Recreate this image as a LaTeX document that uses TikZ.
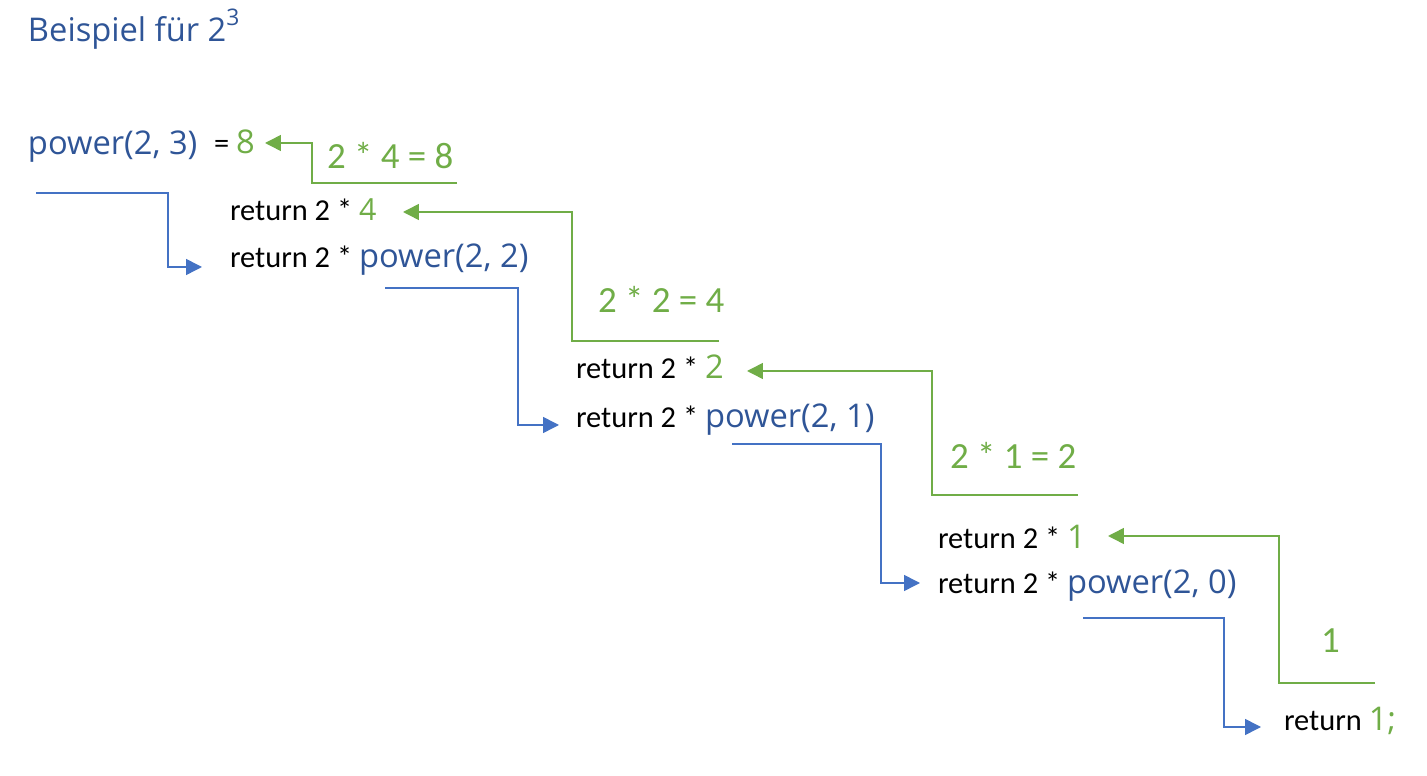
\documentclass[tikz,border=0pt]{standalone}
\usepackage{fontspec}
\setmainfont{Carlito}
\newfontfamily\lfont{Open Sans}
\usetikzlibrary{arrows.meta}
\definecolor{bl}{HTML}{4472C4}
\definecolor{gr}{HTML}{70AD47}
\definecolor{tb}{HTML}{2F5597}
\newcommand{\rsize}{\fontsize{17.3}{20}\selectfont}
\newcommand{\gsize}{\fontsize{21}{24}\selectfont}
\newcommand{\psize}{\lfont\fontsize{18.6}{22}\selectfont}
\begin{document}
\begin{tikzpicture}[x=0.02cm,y=-0.02cm,
  txt/.style={anchor=base west,inner sep=0pt,outer sep=0pt},
  retline/.style={txt,font=\rsize},
  glabel/.style={txt,font=\gsize,text=gr},
  garrow/.style={draw=gr,line width=0.85pt,-{Triangle[length=9pt,width=9pt]}},
  barrow/.style={draw=bl,line width=0.85pt,-{Triangle[length=9pt,width=9pt]}}]
\useasboundingbox (0,0) rectangle (1427,776);
% title
\node[txt,text=tb] (title) at (28,42) {\psize Beispiel für 2\raisebox{0.5em}{\fontsize{13}{13}\selectfont 3}};
% top call
\node[txt,text=tb] (p3) at (28,155) {\psize power(2, 3)};
\node[txt] (res) at (214,154) {\rsize = \textcolor{gr}{\psize 8}};
% level 1
\node[retline] (r1a) at (230,221) {return 2 * \textcolor{gr}{\lfont 4}};
\node[retline] (r1b) at (230,268) {return 2 * \textcolor{tb}{\psize power(2, 2)}};
\node[glabel] (g1) at (327,169) {2 * 4 = 8};
% level 2
\node[retline] (r2a) at (576,379) {return 2 * \textcolor{gr}{\psize 2}};
\node[retline] (r2b) at (576,428) {return 2 * \textcolor{tb}{\psize power(2, 1)}};
\node[glabel] (g2) at (598,313) {2 * 2 = 4};
% level 3
\node[retline] (r3a) at (938,549) {return 2 * \textcolor{gr}{\psize 1}};
\node[retline] (r3b) at (938,594) {return 2 * \textcolor{tb}{\psize power(2, 0)}};
\node[glabel] (g3) at (950,469) {2 * 1 = 2};
% base
\node[retline] (r4) at (1284,730) {return \textcolor{gr}{\psize 1;}};
\node[glabel] (g4) at (1321,652) {1};
% coordinates
\coordinate (b1s) at (36,193);   \coordinate (b1e) at (202,267);
\coordinate (b2s) at (385,288);  \coordinate (b2e) at (559,425);
\coordinate (b3s) at (732,444);  \coordinate (b3e) at (920,583);
\coordinate (b4s) at (1083,618); \coordinate (b4e) at (1261,727);
\coordinate (g1s) at (457,183);  \coordinate (g1e) at (265,143);
\coordinate (g2s) at (719,341);  \coordinate (g2e) at (403,212);
\coordinate (g3s) at (1078,495); \coordinate (g3e) at (747,371);
\coordinate (g4s) at (1375,683); \coordinate (g4e) at (1108,536);
% blue call arrows
\draw[barrow] (b1s) -- (168,193) |- (b1e);
\draw[barrow] (b2s) -- (518,288) |- (b2e);
\draw[barrow] (b3s) -- (881,444) |- (b3e);
\draw[barrow] (b4s) -- (1224,618) |- (b4e);
% green return arrows
\draw[garrow] (g1s) -- (312,183) |- (g1e);
\draw[garrow] (g2s) -- (572,341) |- (g2e);
\draw[garrow] (g3s) -- (932,495) |- (g3e);
\draw[garrow] (g4s) -- (1279,683) |- (g4e);
\end{tikzpicture}
\end{document}
